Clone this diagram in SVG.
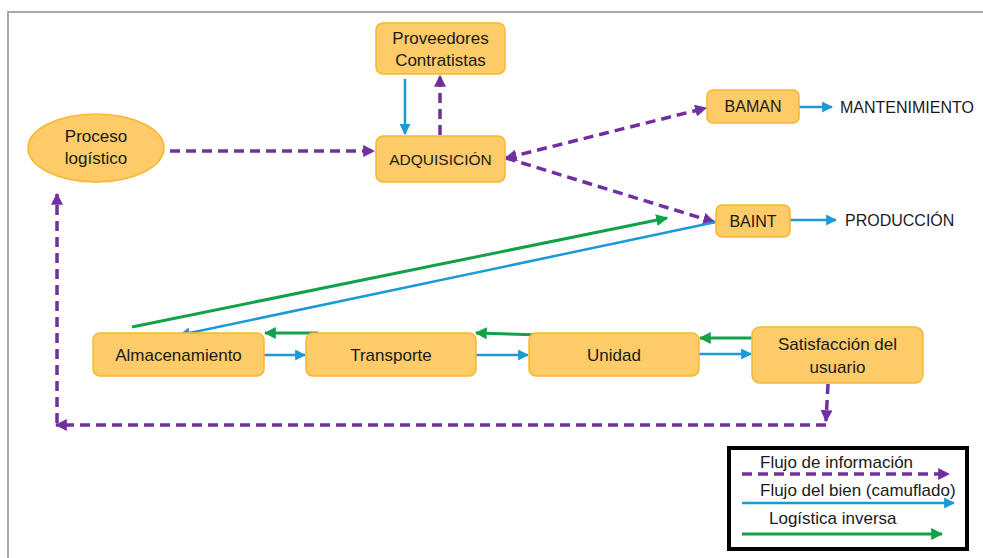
<svg xmlns="http://www.w3.org/2000/svg" width="983" height="558" viewBox="0 0 983 558">
<defs>
<style>
.node{fill:#FDCB67;stroke:#F8B630;stroke-width:1.5}
.t{font-family:"Liberation Sans",Arial,sans-serif;font-size:17px;fill:#1a1a1a;text-anchor:middle}
.tc{font-family:"Liberation Sans",Arial,sans-serif;font-size:16px;fill:#1a1a1a}
.info{fill:none;stroke:#7030A0;stroke-width:3.5;stroke-dasharray:10 6}
.bien{fill:none;stroke:#1C9AD6;stroke-width:2.5}
.inv{fill:none;stroke:#12A14B;stroke-width:3}
</style>
<marker id="ap" viewBox="0 0 10 10" refX="9" refY="5" markerWidth="12" markerHeight="12" markerUnits="userSpaceOnUse" orient="auto-start-reverse"><path d="M0,0 L10,5 L0,10 z" fill="#7030A0"/></marker>
<marker id="ab" viewBox="0 0 10 10" refX="9" refY="5" markerWidth="11" markerHeight="11" markerUnits="userSpaceOnUse" orient="auto"><path d="M0,0 L10,5 L0,10 z" fill="#1C9AD6"/></marker>
<marker id="ag" viewBox="0 0 10 10" refX="9" refY="5" markerWidth="12" markerHeight="12" markerUnits="userSpaceOnUse" orient="auto"><path d="M0,0 L10,5 L0,10 z" fill="#12A14B"/></marker>
</defs>
<rect x="0" y="0" width="983" height="558" fill="#ffffff"/>
<path d="M8,558 L8,12 L983,12" fill="none" stroke="#a8a8a8" stroke-width="2"/>

<g id="connectors">
<line class="info" x1="170" y1="151" x2="374" y2="151" marker-end="url(#ap)"/>
<line class="bien" x1="405" y1="79" x2="405" y2="134" marker-end="url(#ab)"/>
<line class="info" x1="440" y1="135" x2="440" y2="76" marker-end="url(#ap)"/>
<line class="info" x1="506" y1="158" x2="706" y2="108" marker-start="url(#ap)" marker-end="url(#ap)"/>
<line class="info" x1="506" y1="158" x2="714" y2="222" marker-end="url(#ap)"/>
<line class="bien" x1="799" y1="107" x2="832" y2="107" marker-end="url(#ab)"/>
<line class="bien" x1="790" y1="220" x2="836" y2="220" marker-end="url(#ab)"/>
<line class="inv" x1="132" y1="327" x2="667" y2="218" marker-end="url(#ag)"/>
<line class="bien" x1="716" y1="222" x2="180" y2="335" marker-end="url(#ab)"/>
<line class="bien" x1="264" y1="355" x2="305" y2="355" marker-end="url(#ab)"/>
<line class="bien" x1="476" y1="355" x2="528" y2="355" marker-end="url(#ab)"/>
<line class="bien" x1="699" y1="354" x2="751" y2="354" marker-end="url(#ab)"/>
<line class="inv" x1="318" y1="333" x2="265" y2="333" marker-end="url(#ag)"/>
<line class="inv" x1="541" y1="335" x2="476" y2="333" marker-end="url(#ag)"/>
<line class="inv" x1="760" y1="338" x2="700" y2="338" marker-end="url(#ag)"/>
<line class="info" x1="828" y1="384" x2="826" y2="421" marker-end="url(#ap)"/>
<line class="info" x1="826" y1="425" x2="56" y2="425" marker-end="url(#ap)"/>
<line class="info" x1="57" y1="423" x2="57" y2="194" marker-end="url(#ap)"/>
</g>

<g id="proceso"><ellipse class="node" cx="96" cy="148" rx="68" ry="34"/><text class="t" x="96" y="142">Proceso</text><text class="t" x="96" y="164">logístico</text></g>
<g id="proveedores"><rect class="node" x="376" y="23" width="129" height="51" rx="7"/><text class="t" x="440.5" y="44">Proveedores</text><text class="t" x="440.5" y="66">Contratistas</text></g>
<g id="adquisicion"><rect class="node" x="376" y="136" width="129" height="46" rx="7"/><text class="t" x="440.5" y="165" style="font-size:15.5px">ADQUISICIÓN</text></g>
<g id="baman"><rect class="node" x="707" y="90" width="92" height="33" rx="6"/><text class="t" x="753" y="112" style="font-size:16px">BAMAN</text></g>
<g id="baint"><rect class="node" x="716" y="205" width="74" height="32" rx="6"/><text class="t" x="753" y="227" style="font-size:16px">BAINT</text></g>
<g id="mantenimiento"><text class="tc" x="840" y="113">MANTENIMIENTO</text></g>
<g id="produccion"><text class="tc" x="845" y="226">PRODUCCIÓN</text></g>
<g id="almacenamiento"><rect class="node" x="93" y="333" width="171" height="43" rx="7"/><text class="t" x="178.5" y="361">Almacenamiento</text></g>
<g id="transporte"><rect class="node" x="306" y="333" width="170" height="43" rx="7"/><text class="t" x="391" y="361">Transporte</text></g>
<g id="unidad"><rect class="node" x="529" y="333" width="170" height="43" rx="7"/><text class="t" x="614" y="361">Unidad</text></g>
<g id="satisfaccion"><rect class="node" x="752" y="327" width="171" height="56" rx="8"/><text class="t" x="837.5" y="350">Satisfacción del</text><text class="t" x="837.5" y="373">usuario</text></g>

<g id="legend">
<rect x="729" y="448" width="238" height="101" fill="#ffffff" stroke="#000000" stroke-width="4"/>
<text class="tc" x="760" y="468" style="font-size:17px">Flujo de información</text>
<line class="info" x1="742" y1="474" x2="949" y2="474" marker-end="url(#ap)"/>
<text class="tc" x="760" y="496" style="font-size:17px">Flujo del bien (camuflado)</text>
<line class="bien" x1="742" y1="503" x2="954" y2="503" marker-end="url(#ab)"/>
<text class="tc" x="769" y="524" style="font-size:17px">Logística inversa</text>
<line class="inv" x1="742" y1="534" x2="942" y2="534" marker-end="url(#ag)"/>
</g>
</svg>
